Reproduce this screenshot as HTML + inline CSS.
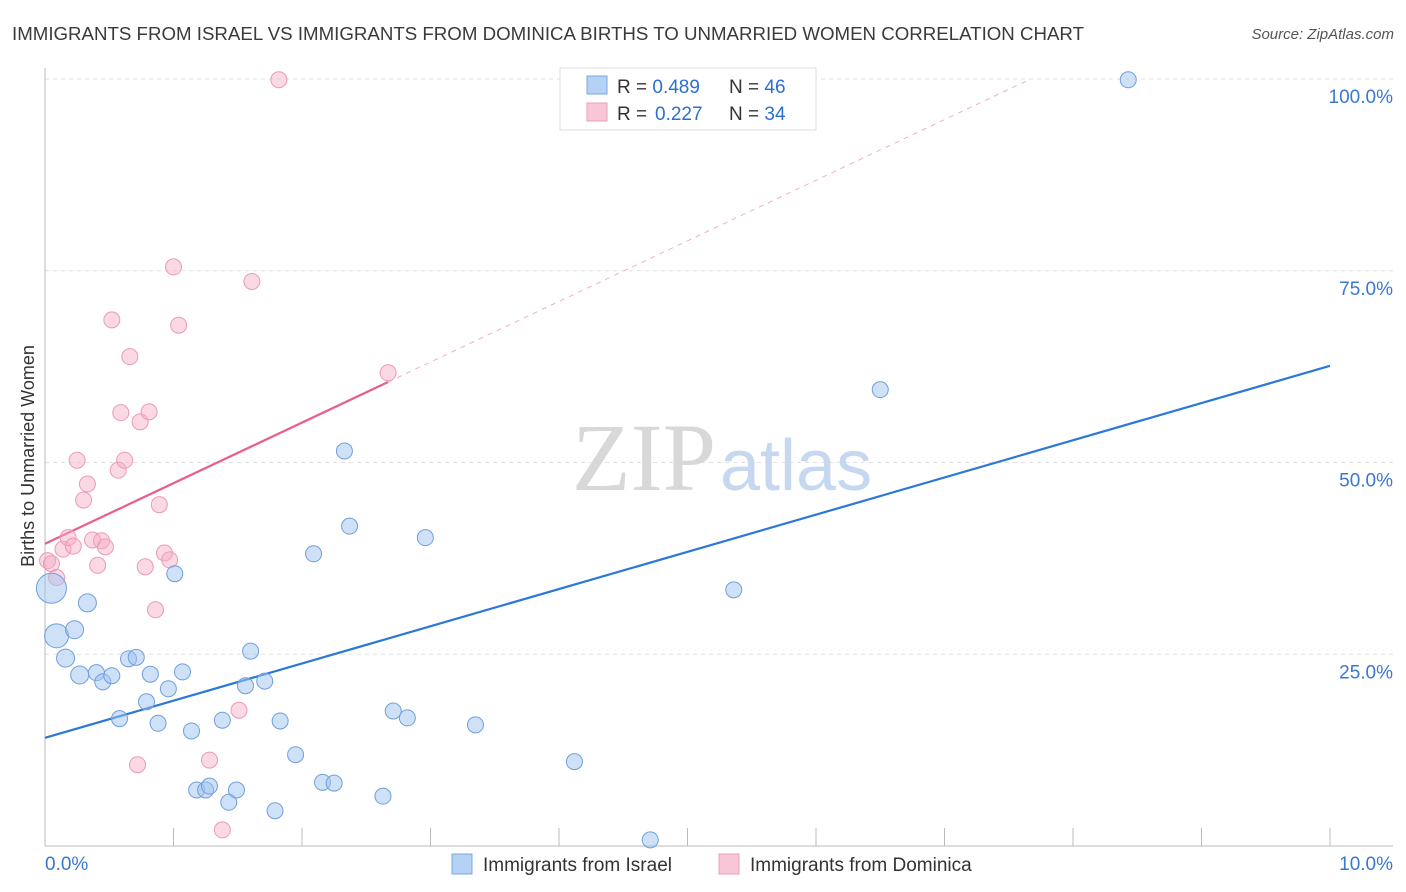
<!DOCTYPE html>
<html><head><meta charset="utf-8">
<style>
body{margin:0;background:#fff;font-family:"Liberation Sans",sans-serif;}
#wrap{position:relative;width:1406px;height:892px;overflow:hidden;}
</style></head>
<body>
<div id="wrap">
<svg id="chart" width="1406" height="892">
<text x="12" y="40" font-size="18" fill="#3a3a3a" textLength="1072" lengthAdjust="spacingAndGlyphs">IMMIGRANTS FROM ISRAEL VS IMMIGRANTS FROM DOMINICA BIRTHS TO UNMARRIED WOMEN CORRELATION CHART</text>
<text x="1394" y="39" font-size="15" fill="#555" font-style="italic" text-anchor="end">Source: ZipAtlas.com</text>
<g id="grid"></g>
<text x="716" y="490" font-size="96" fill="#d8d8d8" font-family="Liberation Serif,serif" text-anchor="end">ZIP</text>
<text x="720" y="490" font-size="72" fill="#c6d8f0">atlas</text>
<g id="axes"></g>
<g id="lines"></g>
<g id="points"></g>
<text x="34" y="456" font-size="18" fill="#333" text-anchor="middle" transform="rotate(-90 34 456)">Births to Unmarried Women</text>
<g>
<rect x="560" y="68" width="256" height="62" fill="#fff" stroke="#ddd"/>
<rect x="587" y="76" width="20" height="18" fill="#b5d1f3" stroke="#7aa8e0"/>
<rect x="587" y="103" width="20" height="18" fill="#f8c6d6" stroke="#eaa0b8"/>
<text x="617" y="93" font-size="19" fill="#333">R = <tspan fill="#2b6fd0">0.489</tspan></text>
<text x="729" y="93" font-size="19" fill="#333">N = <tspan fill="#2b6fd0">46</tspan></text>
<text x="617" y="120" font-size="19" fill="#333">R = <tspan x="655" fill="#2b6fd0">0.227</tspan></text>
<text x="729" y="120" font-size="19" fill="#333">N = <tspan fill="#2b6fd0">34</tspan></text>
</g>
<g>
<rect x="452" y="854" width="20" height="20" fill="#b5d1f3" stroke="#7aa8e0"/>
<text x="483" y="871" font-size="19" fill="#333">Immigrants from Israel</text>
<rect x="719" y="854" width="20" height="20" fill="#f8c6d6" stroke="#eaa0b8"/>
<text x="750" y="871" font-size="19" fill="#333">Immigrants from Dominica</text>
</g>
</svg>
</div>
<script>
const xTicks=[0,1,2,3,4,5,6,7,8,9,10];
const yTicks=[25,50,75,100];
const yTickLabels=["25.0%","50.0%","75.0%","100.0%"];
const israelX=[0.05,0.09,0.16,0.23,0.27,0.33,0.40,0.45,0.52,0.58,0.65,0.71,0.79,0.82,0.88,0.96,1.01,1.07,1.14,1.18,1.25,1.28,1.38,1.43,1.49,1.56,1.60,1.71,1.79,1.83,1.95,2.09,2.16,2.25,2.33,2.37,2.63,2.71,2.82,2.96,3.35,4.12,4.71,5.36,6.50,8.43];
const israelY=[33.6,27.4,24.5,28.2,22.3,31.7,22.6,21.4,22.2,16.6,24.4,24.6,18.8,22.4,16.0,20.5,35.5,22.7,15.0,7.3,7.3,7.8,16.4,5.7,7.3,20.9,25.4,21.5,4.6,16.3,11.9,38.1,8.3,8.2,51.5,41.7,6.5,17.6,16.7,40.2,15.8,11.0,0.8,33.4,59.5,99.9];
const israelR=[15,12,9,9,9,9,8,8,8,8,8,8,8,8,8,8,8,8,8,8,8,8,8,8,8,8,8,8,8,8,8,8,8,8,8,8,8,8,8,8,8,8,8,8,8,8];
const domX=[0.02,0.05,0.09,0.14,0.18,0.22,0.25,0.30,0.33,0.37,0.41,0.44,0.47,0.52,0.57,0.59,0.62,0.66,0.72,0.74,0.78,0.81,0.86,0.89,0.93,0.97,1.00,1.04,1.28,1.38,1.51,1.61,1.82,2.67];
const domY=[37.2,36.8,35.0,38.7,40.2,39.1,50.3,45.1,47.2,39.9,36.6,39.8,39.0,68.6,49.0,56.5,50.3,63.8,10.6,55.3,36.4,56.6,30.8,44.5,38.2,37.3,75.5,67.9,11.2,2.1,17.7,73.6,99.9,61.7];
const israelTrend=[14.1,62.6];
const domTrend=[39.4,7.9];
const NS="http://www.w3.org/2000/svg";
const X0=45,X1=1330,Y0=846,Y100=79;
function sx(v){return X0+(X1-X0)*v/10;}
function sy(v){return Y0-(Y0-Y100)*v/100;}
function mk(tag,attrs,parent){const e=document.createElementNS(NS,tag);for(const k in attrs)e.setAttribute(k,attrs[k]);parent.appendChild(e);return e;}
const grid=document.getElementById('grid'),axes=document.getElementById('axes'),lines=document.getElementById('lines'),pts=document.getElementById('points');
yTicks.forEach((t,i)=>{
 const l=mk('line',{x1:45,x2:1393,y1:sy(t),y2:sy(t),stroke:'#e2e2e2','stroke-dasharray':'4,4'},grid);
 
 
 const tx=mk('text',{x:1393,y:sy(t)+24,'font-size':19,fill:'#3a78d0','text-anchor':'end'},axes);
 tx.textContent=yTickLabels[i];
 
 
});
const ya=mk('line',{x1:45,x2:45,y1:68,y2:846,stroke:'#bbb'},axes);


const xa=mk('line',{x1:45,x2:1393,y1:846,y2:846,stroke:'#bbb'},axes);


xTicks.forEach(t=>{
 const l=mk('line',{x1:sx(t),x2:sx(t),y1:828,y2:846,stroke:'#bbb'},axes);
 
 
});
const xl0=mk('text',{x:45,y:870,'font-size':19,fill:'#3a78d0'},axes);xl0.textContent=xTicks[0].toFixed(1)+'%';


const xl1=mk('text',{x:1393,y:870,'font-size':19,fill:'#3a78d0','text-anchor':'end'},axes);xl1.textContent=xTicks[xTicks.length-1].toFixed(1)+'%';


const bl=mk('line',{x1:sx(0),y1:sy(israelTrend[0]),x2:sx(10),y2:sy(israelTrend[1]),stroke:'#2b78d8','stroke-width':2.2},lines);


const pEnd=Math.max(...domX);
const pl=mk('line',{x1:sx(0),y1:sy(domTrend[0]),x2:sx(pEnd),y2:sy(domTrend[0]+domTrend[1]*pEnd),stroke:'#e8608a','stroke-width':2.2},lines);


const xEnd=(100-domTrend[0])/domTrend[1];
const pd=mk('line',{x1:sx(pEnd),y1:sy(domTrend[0]+domTrend[1]*pEnd),x2:sx(xEnd),y2:sy(100),stroke:'#eeb0c4','stroke-width':1,'stroke-dasharray':'5,5'},lines);


domX.forEach((x,i)=>{
 const c=mk('circle',{cx:sx(x),cy:sy(domY[i]),r:8,fill:'rgba(244,170,196,0.45)',stroke:'#eb9ab5','stroke-width':1},pts);
 
 
});
israelX.forEach((x,i)=>{
 const c=mk('circle',{cx:sx(x),cy:sy(israelY[i]),r:israelR[i],fill:'rgba(160,195,240,0.5)',stroke:'#6f9fdc','stroke-width':1},pts);
 
 
});
</script>
</body></html>
